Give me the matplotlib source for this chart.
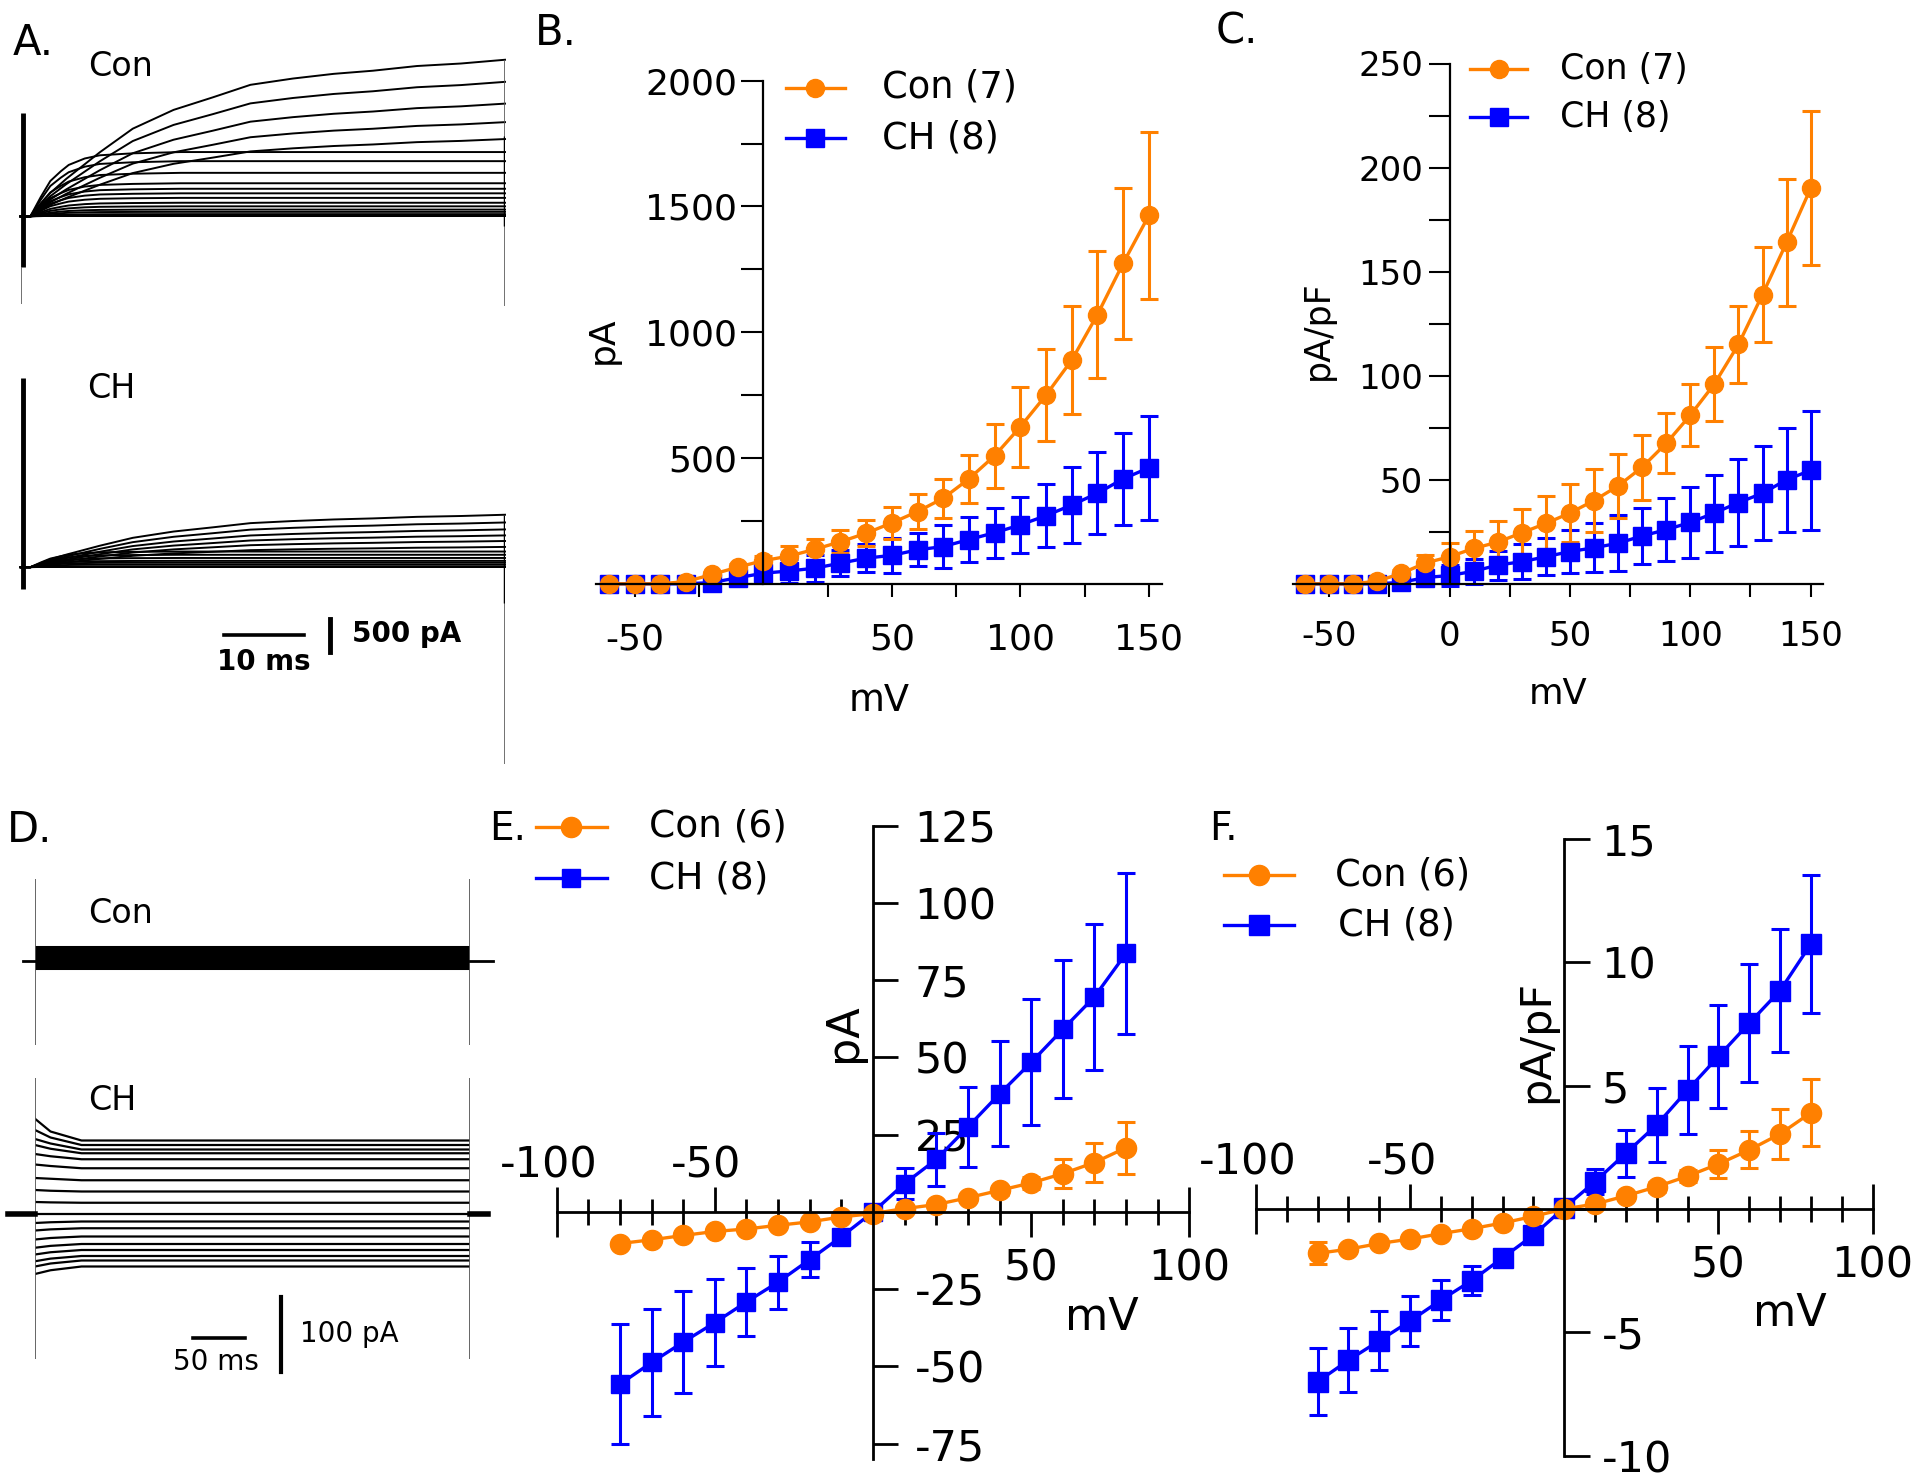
import numpy as np
import matplotlib
matplotlib.use('Agg')
import matplotlib.pyplot as plt
from matplotlib.lines import Line2D
from matplotlib.transforms import offset_copy

plt.rcParams['font.family'] = 'DejaVu Sans'
plt.rcParams['axes.unicode_minus'] = False

ORANGE = '#ff8000'
BLUE = '#0000ff'

### ---------------- data ----------------
# panel A: steady-state current of each sweep (pA) and activation time course
a_con_ss = [2410, 2070, 1735, 1450, 1190, 990, 850, 670, 510, 425, 355, 285,
            210, 155, 105, 70, 35, 15, 0, 0, 0, 0]
a_ch_ss = [807, 688, 581, 489, 403, 312, 241, 191, 142, 98, 71, 43, 14,
           0, 0, 0, 0, 0, 0, 0, 0, 0]
a_t_slow = [0, 1.2, 3.7, 5.7, 9.9, 14, 19.1, 24, 28.7, 34, 39.1, 44, 49.5, 55, 60.5]   # ms
a_frac_slow = [0, 0, 0.15, 0.24, 0.41, 0.56, 0.68, 0.76, 0.84, 0.88, 0.91, 0.93,
               0.96, 0.976, 1.0]
a_t_fast = [0, 1.2, 2.5, 3.7, 5, 6.0, 8, 9.9, 14, 20.0, 60.5]
a_frac_fast = [0, 0, 0.3, 0.55, 0.7, 0.8, 0.9, 0.95, 0.98, 1.0, 1.0]

# panel D: sweep levels (pA)
d_con_level = [19, 16, 13, 11, 9, 7, 5, 4, 2, 1, 0, -1, -3, -4, -5, -7, -8, -10]
d_ch_start = [127, 112, 100, 92, 80, 66, 48, 32, 16, 0, -12, -22, -34, -45, -54, -63, -70, -80]
d_ch_mid = [110, 102, 94, 87, 77, 64, 47, 31, 15.5, 0, -11, -20.5, -32, -42.5, -51, -59.5, -66, -75]
d_ch_level = [98, 92, 86, 81, 73, 61, 45, 30, 15, 0, -10, -19, -30, -40, -48, -56, -62, -70]

# panels B, C
volt_bc = list(range(-60, 151, 10))
b_con = [0, 0, 0, 9, 37, 66, 92, 110, 137, 167, 201, 242, 287, 340, 417, 509,
         624, 750, 889, 1070, 1274, 1464]
b_con_err = [2, 2, 3, 5, 8, 12, 20, 42, 42, 45, 52, 65, 70, 78, 96, 127,
             160, 184, 215, 252, 300, 332]
b_ch = [0, 0, 0, 0, 5, 24, 42, 51, 62, 82, 102, 113, 135, 148, 176, 203,
        234, 271, 313, 360, 417, 461]
b_ch_err = [2, 2, 2, 3, 5, 8, 15, 46, 53, 52, 55, 70, 65, 86, 89, 99,
            110, 124, 150, 163, 183, 206]

c_con = [0, 0, 0, 1.3, 5, 10, 13, 17, 20, 24.5, 29, 34, 40, 47, 56, 67.5,
         81, 96, 115, 139, 164, 190]
c_con_err = [0.5, 0.5, 0.5, 0.8, 1.5, 3.7, 6.6, 8.5, 10, 11.5, 13, 14, 15,
             15.5, 15.5, 14.5, 15, 18, 18.5, 23, 30.5, 37]
c_ch = [0, 0, 0, 0, 0.7, 3, 4, 6, 9, 10.6, 13, 15.5, 17.3, 19.5, 23, 26,
        29.5, 34, 39, 43.5, 50, 54.5]
c_ch_err = [0.5, 0.5, 0.5, 0.5, 1, 2, 5, 6, 7, 8.4, 9, 10.5, 11.7, 13.5,
            13.5, 15, 17, 18.5, 21, 22.5, 25, 28.5]

# panels E, F
volt_ef = list(range(-80, 81, 10))
e_con = [-10.2, -9.0, -7.6, -6.3, -5.5, -4.3, -3.2, -1.6, -0.5, 1.1, 2.4,
         4.6, 7.0, 9.4, 12.4, 16.0, 20.8]
e_con_err = [1, 1, 1, 1, 1, 1, 1, 1, 1, 1, 1, 1, 1.5, 2, 4.6, 6.4, 8.4]
e_ch = [-55.7, -48.7, -42.1, -35.8, -29.1, -22.7, -15.4, -8.0, 0, 9.2, 17.0,
        27.5, 38.2, 48.4, 59.1, 69.6, 83.7]
e_ch_err = [19.5, 17.4, 16.5, 14, 10.9, 8.6, 5.8, 1.5, 1, 5, 8.7, 13, 17,
            20.4, 22.3, 23.5, 26]

f_con = [-1.8, -1.63, -1.4, -1.22, -1.0, -0.8, -0.57, -0.3, 0, 0.2, 0.53,
         0.9, 1.33, 1.82, 2.39, 3.04, 3.9]
f_con_err = [0.45, 0.15, 0.15, 0.15, 0.15, 0.15, 0.15, 0.15, 0.15, 0.15,
             0.15, 0.2, 0.25, 0.55, 0.75, 1.0, 1.35]
f_ch = [-7.0, -6.13, -5.34, -4.54, -3.69, -2.9, -1.98, -1.06, 0.05, 1.11,
        2.26, 3.41, 4.82, 6.18, 7.53, 8.85, 10.74]
f_ch_err = [1.37, 1.3, 1.2, 1.0, 0.82, 0.6, 0.2, 0.2, 0.2, 0.5, 0.95, 1.5,
            1.8, 2.1, 2.4, 2.5, 2.8]

### ---------------- figure ----------------
W, H = 1920, 1480
fig = plt.figure(figsize=(W / 100, H / 100), dpi=100)


def fx(x):
    return x / W


def fy(y):
    return 1 - y / H


def px_axes(x0, x1, y0, y1):
    return fig.add_axes([fx(x0), fy(y1), (x1 - x0) / W, (y1 - y0) / H])


def trace_axes(x0, x1, t_end, y_top, y_bot, y_base, pa_per_px):
    ax = px_axes(x0, x1, y_top, y_bot)
    ax.set_xlim(0, t_end)
    ax.set_ylim(-(y_bot - y_base) * pa_per_px, (y_base - y_top) * pa_per_px)
    ax.axis('off')
    return ax


def ftext(x, y, s, size, **kw):
    fig.text(fx(x), fy(y), s, fontsize=size, **kw)


def legend_row(x0, x1, y, color, marker, ms, label, xt, size):
    fig.add_artist(Line2D([fx(x0), fx(x1)], [fy(y), fy(y)], transform=fig.transFigure,
                          color=color, lw=2.4))
    fig.add_artist(Line2D([fx((x0 + x1) / 2)], [fy(y)], transform=fig.transFigure,
                          color=color, marker=marker, ms=ms, ls='none'))
    ftext(xt, y, label, size, va='center', ha='left')


def iv_series(ax, x, y, err, color, marker, ms):
    cont = ax.errorbar(x, y, yerr=err, color=color, marker=marker, ms=ms, mec=color,
                       lw=2.4, elinewidth=2.2, capsize=6.4, capthick=2.2, clip_on=False)
    for art in list(cont.lines[1]) + list(cont.lines[2]):
        art.set_clip_on(False)


### Panel A: traces
pa_A = 500 / 32.5
axA1 = trace_axes(20.7, 505, 60.5, 40, 330, 216.4, pa_A)
axA2 = trace_axes(20.7, 505, 60.5, 340, 790, 567.2, pa_A)
for ax, amps in [(axA1, a_con_ss), (axA2, a_ch_ss)]:
    for amp in amps:
        if amp > 1000 or (ax is axA2 and amp > 300):
            t, fr = a_t_slow, a_frac_slow
        else:
            t, fr = a_t_fast, a_frac_fast
        ax.plot(t, amp * np.array(fr), color='k', lw=1.4, clip_on=False)
# capacitive transients and step ends
axA1.vlines(0.3, -780, 1590, color='k', lw=3.5)
axA1.vlines(0.05, -1350, -780, color='0.35', lw=1.2)
axA1.vlines(60.5, -1380, 2410, color='0.35', lw=1.2)
axA1.vlines(60.5, -140, 1240, color='k', lw=2.5)
axA2.vlines(0.3, -340, 2918, color='k', lw=3.5)
axA2.vlines(60.5, -3031, 807, color='0.35', lw=1.2)
axA2.vlines(60.5, -551, 807, color='k', lw=2.5)
# scale bars
axA2.plot([25.4, 35.4], [-1050, -1050], color='k', lw=2.6, clip_on=False)
axA2.plot([38.7, 38.7], [-800, -1300], color='k', lw=3.5, clip_on=False)
axA2.text(30.4, -1580, '10 ms', fontsize=20, fontweight='bold', ha='center', va='baseline')
axA2.text(41.35, -1153, '500 pA', fontsize=20, fontweight='bold', ha='left', va='baseline')
ftext(88, 76, 'Con', 24, va='baseline')
ftext(87, 398, 'CH', 24, va='baseline')

### Panel D: traces
pa_D = 100 / 75
axD1 = trace_axes(35, 470, 421, 850, 1060, 960.9, pa_D)
axD2 = trace_axes(35, 470, 421, 1060, 1400, 1214, pa_D)
for lev in d_con_level:
    axD1.plot([0, 421], [lev, lev], color='k', lw=2.2)
for st, mid, lev in zip(d_ch_start, d_ch_mid, d_ch_level):
    axD2.plot([0, 15, 45, 421], [st, mid, lev, lev], color='k', lw=1.6)
axD1.vlines([0, 421], -111.7, 109, color='0.35', lw=1.3)
axD2.vlines([0, 421], -193, 182, color='0.35', lw=1.3)
axD1.plot([-11.3, 0], [0, 0], color='k', lw=2, clip_on=False)
axD1.plot([421, 443.6], [0, 0], color='k', lw=2, clip_on=False)
axD2.plot([-25.8, 0], [0, 0], color='k', lw=4, clip_on=False)
axD2.plot([421, 438.8], [0, 0], color='k', lw=4, clip_on=False)
axD2.plot([153.2, 203.2], [-165.2, -165.2], color='k', lw=2.6)
axD2.plot([238.1, 238.1], [-110.5, -210.6], color='k', lw=3)
axD2.text(174.7, -207.6, '50 ms', fontsize=20, ha='center', va='baseline')
axD2.text(256.5, -170.9, '100 pA', fontsize=20, ha='left', va='baseline')
ftext(88, 922.5, 'Con', 24, va='baseline')
ftext(88, 1110, 'CH', 24, va='baseline')

### Panel B
axB = px_axes(596.2, 1161.7, 80.6, 583.8)
axB.set_xlim(-65, 155)
axB.set_ylim(0, 2000)
iv_series(axB, volt_bc, b_ch, b_ch_err, BLUE, 's', 12.5)
iv_series(axB, volt_bc, b_con, b_con_err, ORANGE, 'o', 13)
axB.spines[['top', 'right']].set_visible(False)
axB.spines['left'].set_position(('data', 0))
axB.spines[['left', 'bottom']].set_linewidth(1.6)
axB.set_xticks([-50, -25, 25, 50, 75, 100, 125, 150],
               ['-50', '', '', '50', '', '100', '', '150'])
axB.set_yticks(range(0, 2001, 250),
               ['', '', '500', '', '1000', '', '1500', '', '2000'])
axB.tick_params(axis='x', direction='out', length=9, width=1.5, pad=19, labelsize=26)
axB.tick_params(axis='y', direction='out', length=16, width=1.5, pad=3, labelsize=26)
fig.text(fx(613), fy(340), 'pA', fontsize=26, rotation=90, rotation_mode='anchor',
         ha='center', va='baseline')
ftext(879, 711, 'mV', 26.5, ha='center', va='baseline')
legend_row(785.5, 845.4, 87.5, ORANGE, 'o', 13, 'Con (7)', 881.7, 26.5)
legend_row(785.5, 845.4, 138, BLUE, 's', 12.5, 'CH (8)', 881.7, 26.5)

### Panel C
axC = px_axes(1293, 1822.7, 63.5, 583.8)
axC.set_xlim(-65, 155)
axC.set_ylim(0, 250)
iv_series(axC, volt_bc, c_ch, c_ch_err, BLUE, 's', 12.5)
iv_series(axC, volt_bc, c_con, c_con_err, ORANGE, 'o', 13)
axC.spines[['top', 'right']].set_visible(False)
axC.spines['left'].set_position(('data', 0))
axC.spines[['left', 'bottom']].set_linewidth(1.6)
axC.set_xticks([-50, -25, 0, 25, 50, 75, 100, 125, 150],
               ['-50', '', '0', '', '50', '', '100', '', '150'])
axC.set_yticks(range(0, 251, 25),
               ['', '', '50', '', '100', '', '150', '', '200', '', '250'])
axC.tick_params(axis='x', direction='out', length=9, width=1.5, pad=17, labelsize=24.5)
axC.tick_params(axis='y', direction='out', length=15, width=1.5, pad=4, labelsize=24.5)
fig.text(fx(1328), fy(330), 'pA/pF', fontsize=25, rotation=90, rotation_mode='anchor',
         ha='center', va='baseline')
ftext(1557.7, 704.4, 'mV', 25.5, ha='center', va='baseline')
legend_row(1470, 1527, 69, ORANGE, 'o', 13, 'Con (7)', 1560.4, 25)
legend_row(1470, 1527, 117.4, BLUE, 's', 12.5, 'CH (8)', 1560.4, 25)


### Panels E and F: axes crossing at the origin
def style_cross(ax, yticks, ylabels, ylen, ypad, size):
    ax.set_xlim(-100, 100)
    ax.set_axisbelow(True)
    ax.spines[['left', 'top']].set_visible(False)
    ax.spines['right'].set_position(('data', 0))
    ax.spines['bottom'].set_position(('data', 0))
    ax.spines[['right', 'bottom']].set_linewidth(2)
    ax.yaxis.set_ticks_position('right')
    ax.set_yticks(yticks, ylabels)
    ax.tick_params(axis='y', direction='out', length=ylen, width=2, pad=ypad,
                   labelsize=size, labelright=True, labelleft=False)
    ax.set_xticks([-100, 100], ['', ''])
    ax.set_xticks([v for v in range(-90, 91, 10) if v not in (-50, 0, 50)], minor=True)
    ax.tick_params(axis='x', which='major', direction='inout', length=36, width=2)
    ax.tick_params(axis='x', which='minor', direction='inout', length=19, width=2)
    ax.plot([-50], [0], marker=2, ms=18, mew=2, color='k', clip_on=False)
    ax.plot([50], [0], marker=3, ms=18, mew=2, color='k', clip_on=False)
    up = offset_copy(ax.transData, fig=fig, x=-6, y=24.5, units='points')
    down = offset_copy(ax.transData, fig=fig, x=0, y=-49.5, units='points')
    for v in [-100, -50]:
        ax.text(v, 0, str(v), transform=up, fontsize=size, ha='center', va='baseline')
    for v in [50, 100]:
        ax.text(v, 0, str(v), transform=down, fontsize=size, ha='center', va='baseline')


axE = px_axes(556.7, 1189.3, 825.7, 1459.2)
axE.set_ylim(-80, 125)
iv_series(axE, volt_ef, e_ch, e_ch_err, BLUE, 's', 13)
iv_series(axE, volt_ef, e_con, e_con_err, ORANGE, 'o', 14.5)
style_cross(axE, [-75, -50, -25, 0, 25, 50, 75, 100, 125],
            ['-75', '-50', '-25', '', '25', '50', '75', '100', '125'], 18, 12, 31)
fig.text(fx(856), fy(1033), 'pA', fontsize=32, rotation=90, rotation_mode='anchor',
         ha='center', va='baseline')
ftext(1102, 1330.5, 'mV', 32, ha='center', va='baseline')
legend_row(535.5, 607, 826.5, ORANGE, 'o', 14.5, 'Con (6)', 649.3, 27)
legend_row(535.5, 607, 878, BLUE, 's', 13, 'CH (8)', 649.3, 27)

axF = px_axes(1256, 1872.6, 838.8, 1455.7)
axF.set_ylim(-10, 15)
iv_series(axF, volt_ef, f_ch, f_ch_err, BLUE, 's', 14)
iv_series(axF, volt_ef, f_con, f_con_err, ORANGE, 'o', 14.5)
style_cross(axF, [-10, -5, 0, 5, 10, 15], ['-10', '-5', '', '5', '10', '15'], 18.7, 8, 31)
fig.text(fx(1548), fy(1041), 'pA/pF', fontsize=31, rotation=90, rotation_mode='anchor',
         ha='center', va='baseline')
ftext(1790, 1326, 'mV', 32, ha='center', va='baseline')
legend_row(1223.9, 1294, 874.5, ORANGE, 'o', 14.5, 'Con (6)', 1335.4, 26.5)
legend_row(1223.9, 1294, 924.7, BLUE, 's', 14, 'CH (8)', 1337.7, 26.5)

### panel letters
for letter, x, y, size in [('A.', 13, 55, 30), ('B.', 535, 45, 30), ('C.', 1216, 44, 30),
                           ('D.', 7, 842, 30), ('E.', 489, 840, 28), ('F.', 1209, 840, 28)]:
    ftext(x, y, letter, size, ha='left', va='baseline')

fig.savefig('out.png', dpi=100, facecolor='white')
